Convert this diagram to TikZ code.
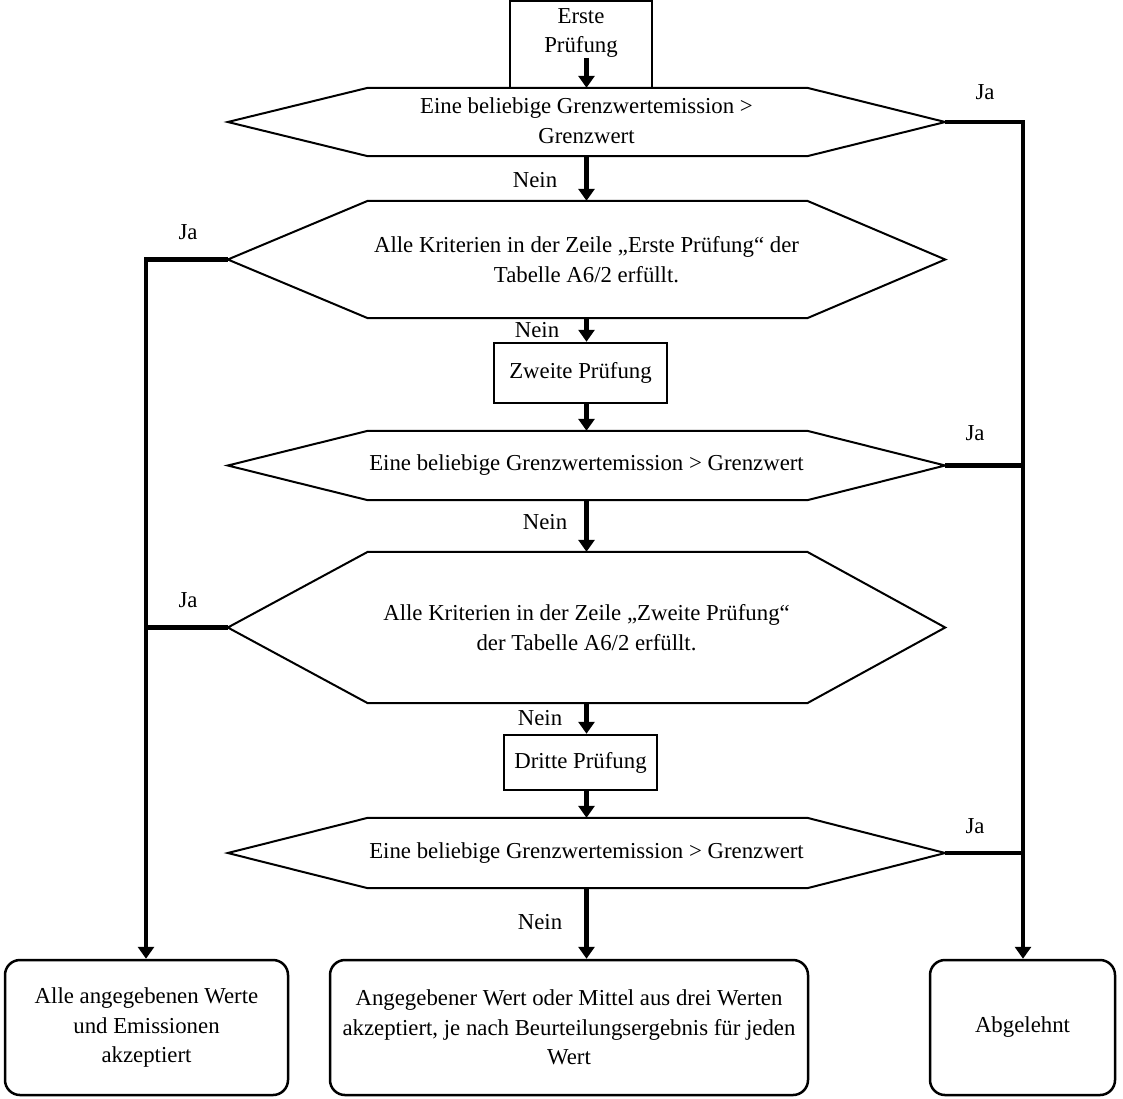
\documentclass[tikz,border=0pt]{standalone}
\usepackage{fontspec}
\setmainfont{Liberation Serif}
\usetikzlibrary{arrows.meta,calc}
\newcommand\myhex[1]{\draw[hexline] (#1.west) -- ([xshift=140pt]#1.north west) -- ([xshift=-138pt]#1.north east) -- (#1.east) -- ([xshift=-138pt]#1.south east) -- ([xshift=140pt]#1.south west) -- cycle;}
\begin{document}
\begin{tikzpicture}[x=1pt,y=-1pt,
  every node/.style={font=\fontsize{22.8}{29.5}\selectfont},
  hexnode/.style={minimum width=717pt, inner sep=0pt, align=center},
  hexline/.style={line width=2pt, line join=miter},
  boxnode/.style={draw, line width=2.5pt, inner sep=0pt, align=center},
  endbox/.style={draw, line width=2.5pt, rounded corners=15pt, inner sep=0pt, align=center},
  conn/.style={line width=4.5pt},
  arr/.style={line width=4.5pt, -{Triangle[width=16pt,length=12pt]}},
  lbl/.style={inner sep=0pt}
]
\useasboundingbox (0,0) rectangle (1123,1098);

% start box
\node[draw, line width=2.5pt, minimum width=142pt, minimum height=87pt, inner sep=0pt] (e1) at (581,44.5) {};
\node[align=center, inner sep=0pt] (e1t) at (581,33) {Erste\\Prüfung};

% hexagons
\node[hexnode, minimum height=68pt] (h1) at (586.5,122) {Eine beliebige Grenzwertemission >\\Grenzwert\rule[-3pt]{0pt}{1pt}};
\node[hexnode, minimum height=117pt] (h2) at (586.5,259.5) {Alle Kriterien in der Zeile „Erste Prüfung“ der\\Tabelle A6/2 erfüllt.};
\node[hexnode, minimum height=69pt] (h3) at (586.5,465.5) {Eine beliebige Grenzwertemission > Grenzwert};
\node[hexnode, minimum height=151pt] (h4) at (586.5,627.5) {Alle Kriterien in der Zeile „Zweite Prüfung“\\der Tabelle A6/2 erfüllt.};
\node[hexnode, minimum height=70pt] (h5) at (586.5,853) {Eine beliebige Grenzwertemission > Grenzwert};
\myhex{h1}
\myhex{h2}
\myhex{h3}
\myhex{h4}
\myhex{h5}

% check boxes
\node[boxnode, minimum width=173pt, minimum height=60pt] (z) at (580.5,373) {Zweite Prüfung};
\node[boxnode, minimum width=153pt, minimum height=55pt] (d) at (580.5,762.5) {Dritte Prüfung};

% end boxes
\node[endbox, minimum width=283pt, minimum height=135pt] (ea) at (146.5,1027.5) {Alle angegebenen Werte\\und Emissionen\\akzeptiert};
\node[endbox, minimum width=478pt, minimum height=135pt] (em) at (569,1027.5) {Angegebener Wert oder Mittel aus drei Werten\\akzeptiert, je nach Beurteilungsergebnis für jeden\\Wert};
\node[endbox, minimum width=185pt, minimum height=135pt] (er) at (1022.5,1027.5) {Abgelehnt};

% coordinates for side lines
\coordinate (L) at (146,0);
\coordinate (R) at (1023,0);

% main flow
\draw[arr] (e1t.south -| h1.north) -- (h1.north);
\draw[arr] (h1.south) -- (h2.north);
\draw[arr] (h2.south) -- (h2.south |- z.north);
\draw[arr] (h2.south |- z.south) -- (h3.north);
\draw[arr] (h3.south) -- (h4.north);
\draw[arr] (h4.south) -- (h4.south |- d.north);
\draw[arr] (h4.south |- d.south) -- (h5.north);
\draw[arr] (h5.south) -- (h5.south |- em.north);

% left side
\draw[arr] (h2.west) -| (L |- ea.north);
\draw[conn] (h4.west) -- (h4.west -| L);
% right side
\draw[arr] (h1.east) -| (R |- er.north);
\draw[conn] (h3.east) -- (h3.east -| R);
\draw[conn] (h5.east) -- (h5.east -| R);

% labels
\node[lbl] (n1) at (535,180) {Nein};
\node[lbl] (n2) at (537,330) {Nein};
\node[lbl] (n3) at (545,522) {Nein};
\node[lbl] (n4) at (540,718) {Nein};
\node[lbl] (n5) at (540,922) {Nein};
\node[lbl] (j1) at (985,92) {Ja};
\node[lbl] (j2) at (188,232) {Ja};
\node[lbl] (j3) at (975,433) {Ja};
\node[lbl] (j4) at (188,600) {Ja};
\node[lbl] (j5) at (975,826) {Ja};
\end{tikzpicture}
\end{document}
